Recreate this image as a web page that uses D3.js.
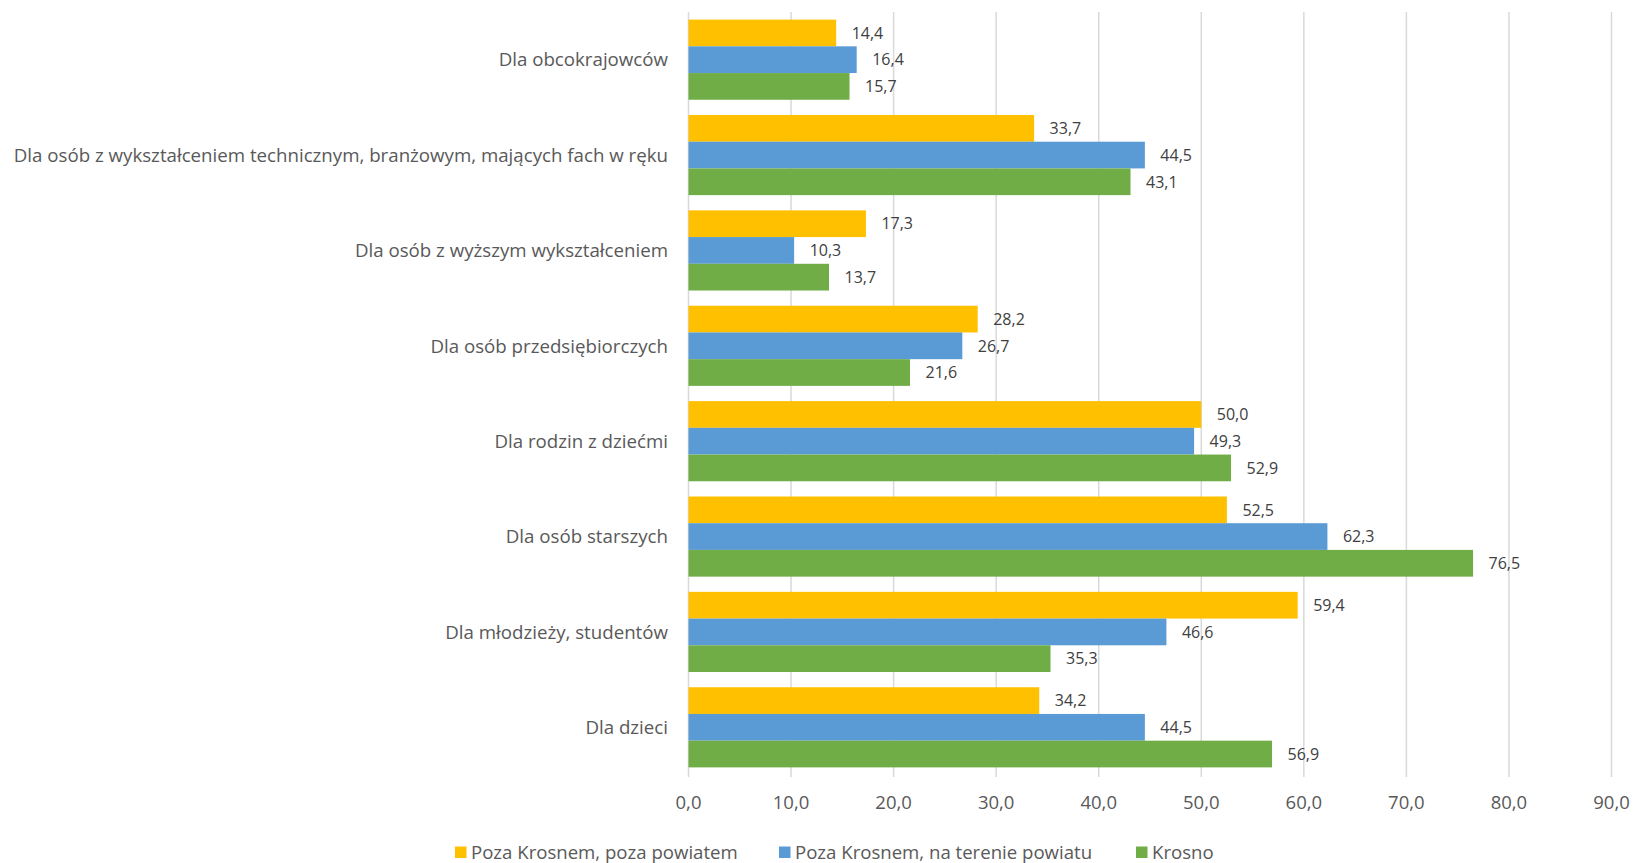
<!DOCTYPE html>
<html lang="pl">
<head>
  <meta charset="UTF-8">
  <title>Wykres</title>
  <style>
    body { margin: 0; background: #fff; }
    text { font-family: "Open Sans", sans-serif; }
  </style>
</head>
<body>
  <script src="https://d3js.org/d3.v7.min.js"></script>
  <script>
    const width = 1633;
    const height = 863;

    const categories = [
      'Dla obcokrajowców',
      'Dla osób z wykształceniem technicznym, branżowym, mających fach w ręku',
      'Dla osób z wyższym wykształceniem',
      'Dla osób przedsiębiorczych',
      'Dla rodzin z dziećmi',
      'Dla osób starszych',
      'Dla młodzieży, studentów',
      'Dla dzieci'
    ];
    const seriesNames = ['Poza Krosnem, poza powiatem', 'Poza Krosnem, na terenie powiatu', 'Krosno'];
    const pozaPowiatem = [14.4, 33.7, 17.3, 28.2, 50.0, 52.5, 59.4, 34.2];
    const naTereniePowiatu = [16.4, 44.5, 10.3, 26.7, 49.3, 62.3, 46.6, 44.5];
    const krosno = [15.7, 43.1, 13.7, 21.6, 52.9, 76.5, 35.3, 56.9];
    const xTicks = [0, 10, 20, 30, 40, 50, 60, 70, 80, 90];
    const colors = ['#FFC000', '#5B9BD5', '#70AD47'];

    const series = [pozaPowiatem, naTereniePowiatu, krosno];
    const fmt = v => d3.format('.1f')(v).replace('.', ',');

    const margin = { top: 12, right: 21.5, bottom: 88, left: 688.5 };
    const plotW = width - margin.left - margin.right;
    const plotH = height - margin.top - margin.bottom;

    const svg = d3.select('body')
      .append('svg')
      .attr('width', width)
      .attr('height', height);

    const g = svg.append('g')
      .attr('transform', `translate(${margin.left},${margin.top})`);

    const x = d3.scaleLinear().domain([0, 90]).range([0, plotW]);
    const y = d3.scaleBand().domain(categories).range([0, plotH]);
    const gap = 0.57;
    const barH = y.bandwidth() / (3 + gap);
    const inner = d3.scaleBand().domain(d3.range(3))
      .range([barH * gap / 2, y.bandwidth() - barH * gap / 2]);

    // gridlines
    g.selectAll('.grid')
      .data(xTicks)
      .join('line')
      .attr('x1', d => x(d))
      .attr('x2', d => x(d))
      .attr('y1', 0)
      .attr('y2', plotH + 2)
      .attr('stroke', '#d9d9d9')
      .attr('stroke-width', 1.5);

    // bars + value labels
    series.forEach((vals, si) => {
      const sg = g.append('g');
      sg.selectAll('rect')
        .data(vals)
        .join('rect')
        .attr('x', 0)
        .attr('y', (d, i) => y(categories[i]) + inner(si))
        .attr('width', d => x(d))
        .attr('height', inner.bandwidth())
        .attr('fill', colors[si]);
      sg.selectAll('text')
        .data(vals)
        .join('text')
        .attr('x', d => x(d) + 15.5)
        .attr('y', (d, i) => y(categories[i]) + inner(si) + inner.bandwidth() / 2)
        .attr('dy', '0.36em')
        .attr('font-size', 16)
        .attr('fill', '#404040')
        .text(d => fmt(d));
    });

    // category labels
    g.selectAll('.cat')
      .data(categories)
      .join('text')
      .attr('x', -20.5)
      .attr('y', d => y(d) + y.bandwidth() / 2)
      .attr('dy', '0.36em')
      .attr('text-anchor', 'end')
      .attr('font-size', 18.7)
      .attr('fill', '#595959')
      .text(d => d);

    // x tick labels
    g.selectAll('.tick')
      .data(xTicks)
      .join('text')
      .attr('x', d => x(d))
      .attr('y', plotH + 34)
      .attr('text-anchor', 'middle')
      .attr('font-size', 18.5)
      .attr('fill', '#595959')
      .text(d => fmt(d));

    // legend
    const legendStarts = [455, 779, 1136];
    const lg = svg.append('g');
    seriesNames.forEach((name, i) => {
      lg.append('rect')
        .attr('x', legendStarts[i])
        .attr('y', 846.5)
        .attr('width', 11.5)
        .attr('height', 11.5)
        .attr('fill', colors[i]);
      lg.append('text')
        .attr('x', legendStarts[i] + 16)
        .attr('y', 852.5)
        .attr('dy', '0.36em')
        .attr('font-size', 18.6)
        .attr('fill', '#595959')
        .text(name);
    });
  </script>
</body>
</html>
